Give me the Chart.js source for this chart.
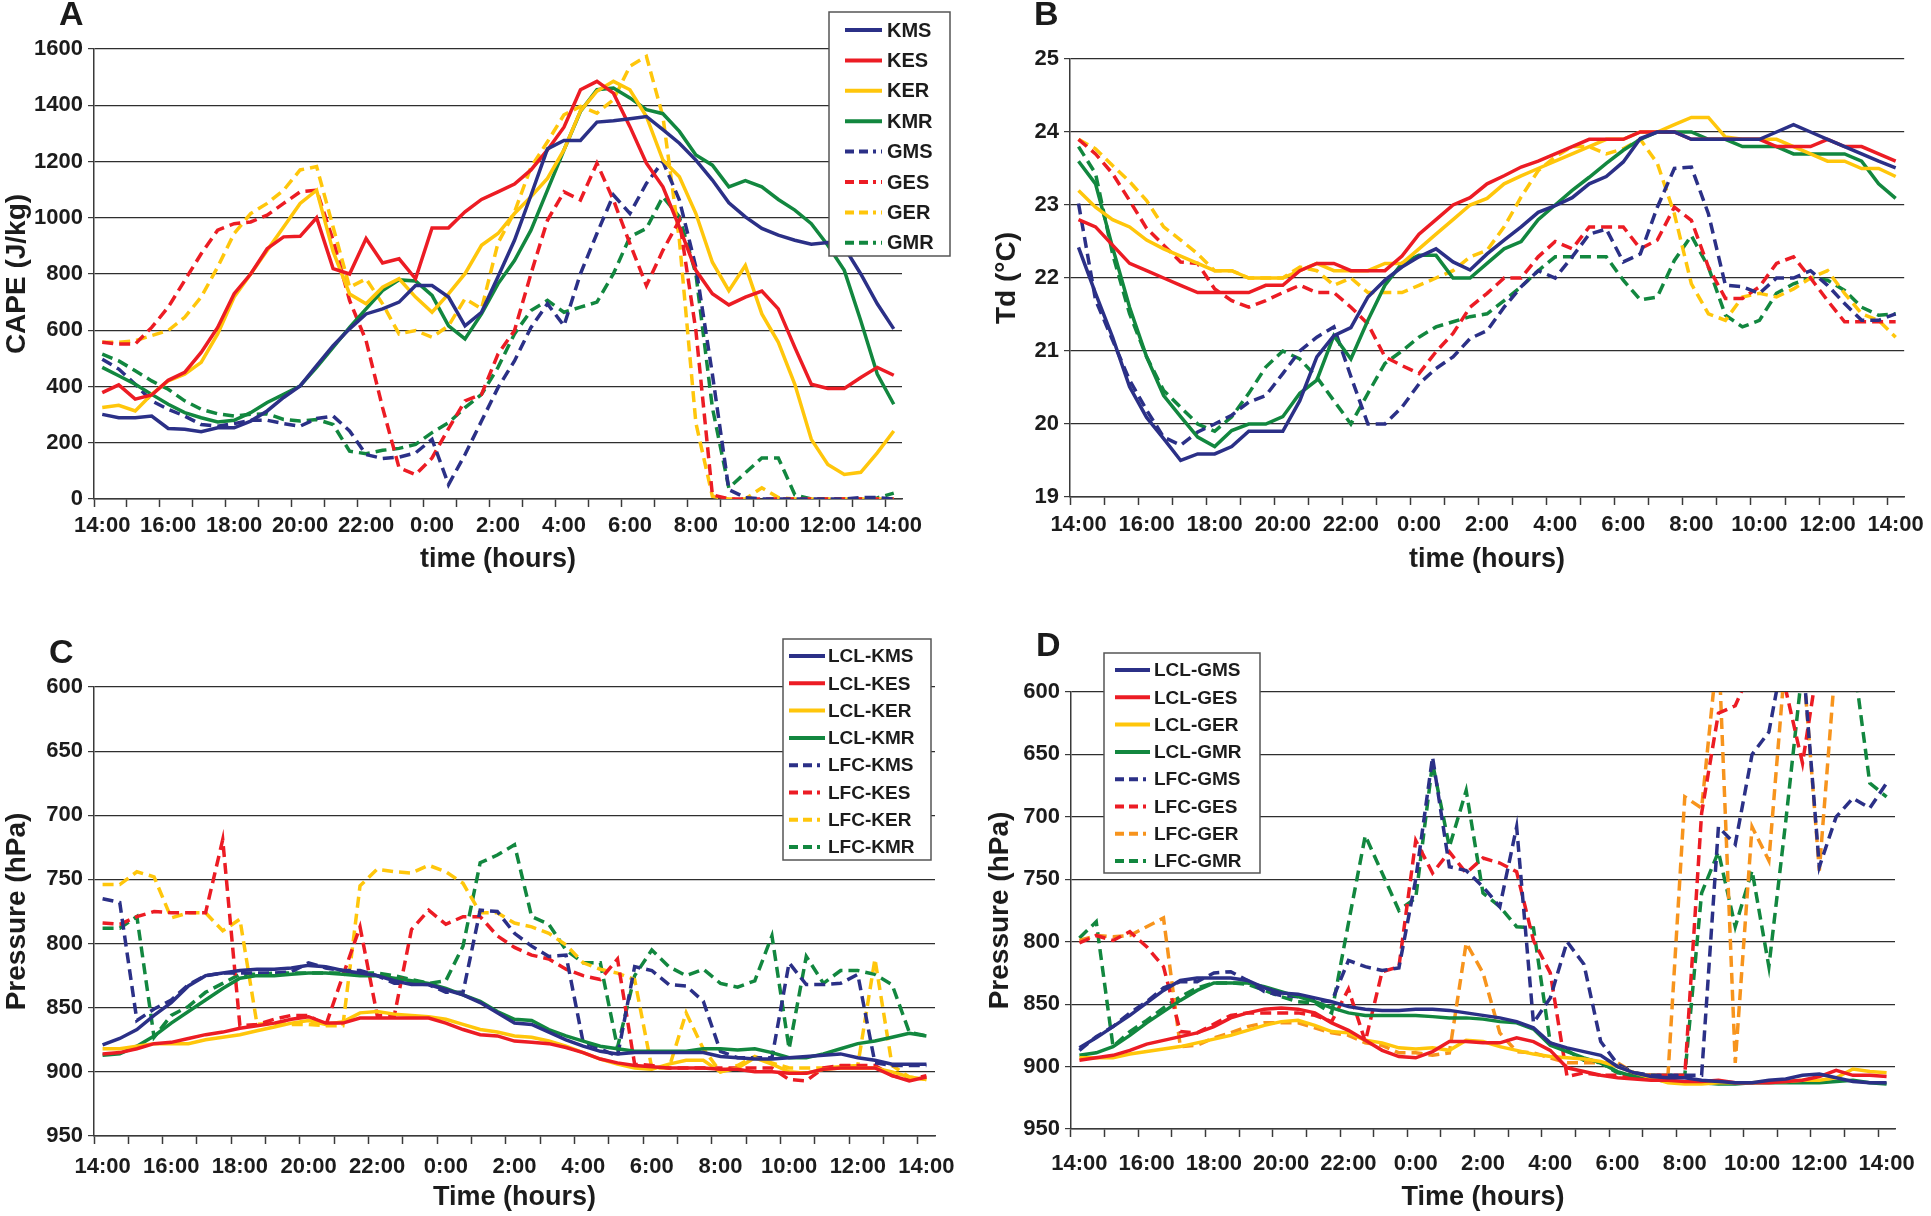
<!DOCTYPE html>
<html>
<head>
<meta charset="utf-8">
<script src="https://cdn.jsdelivr.net/npm/chart.js@4.4.1/dist/chart.umd.min.js"></script>
<style>
  html, body { margin: 0; padding: 0; background: #fff; }
  body { width: 1931px; height: 1216px; position: relative; overflow: hidden; font-family: 'Liberation Sans', Arial, sans-serif; }
  .panel { position: absolute; }
  .letter { position: absolute; font-weight: bold; font-size: 34px; line-height: 34px; color: #1a1a1a; }
</style>
</head>
<body>
<div class="panel" style="left:0;top:0;width:965px;height:600px"><canvas id="chartA"></canvas></div>
<div class="panel" style="left:965px;top:0;width:966px;height:600px"><canvas id="chartB"></canvas></div>
<div class="panel" style="left:0;top:608px;width:965px;height:608px"><canvas id="chartC"></canvas></div>
<div class="panel" style="left:965px;top:608px;width:966px;height:608px"><canvas id="chartD"></canvas></div>
<div class="letter" style="left:59px;top:-4px">A</div>
<div class="letter" style="left:1034px;top:-4px">B</div>
<div class="letter" style="left:49px;top:634px">C</div>
<div class="letter" style="left:1036px;top:627px">D</div>
<script>
// half-hourly time categories, 14:00 to 14:00 next day
const timeLabels = ['14:00','14:30','15:00','15:30','16:00','16:30','17:00','17:30','18:00','18:30',
  '19:00','19:30','20:00','20:30','21:00','21:30','22:00','22:30','23:00','23:30',
  '0:00','0:30','1:00','1:30','2:00','2:30','3:00','3:30','4:00','4:30','5:00','5:30',
  '6:00','6:30','7:00','7:30','8:00','8:30','9:00','9:30','10:00','10:30','11:00','11:30',
  '12:00','12:30','13:00','13:30','14:00'];

// A: CAPE (J/kg)
const kmsA = [301,289,289,295,251,248,239,253,253,277,313,361,402,474,545,605,658,676,700,759,759,718,616,664,790,920,1080,1245,1275,1275,1340,1345,1352,1360,1313,1265,1205,1134,1053,1003,962,938,920,906,912,895,800,694,605];
const kesA = [378,406,355,370,422,450,521,610,730,800,890,932,934,1000,819,800,926,839,854,783,964,964,1021,1065,1092,1120,1170,1241,1322,1455,1485,1443,1324,1194,1110,967,813,730,690,718,739,676,539,408,393,393,432,468,440];
const kerA = [325,333,313,372,420,444,486,587,718,800,884,967,1051,1098,880,729,694,753,783,718,664,729,801,902,944,1015,1075,1140,1241,1380,1450,1485,1455,1360,1205,1146,1015,842,741,830,658,557,408,212,123,87,95,164,242];
const kmrA = [468,438,408,372,337,307,289,274,280,307,343,372,402,468,539,610,676,741,779,775,724,616,569,658,765,848,956,1098,1241,1378,1455,1461,1426,1384,1370,1307,1223,1187,1110,1132,1110,1065,1027,979,902,813,634,444,337];
const gmsA = [497,462,408,349,319,295,265,259,268,280,280,268,259,286,295,242,158,144,149,164,212,51,158,277,396,491,610,694,616,801,944,1081,1015,1122,1200,1063,825,444,33,5,0,0,0,0,0,0,5,5,0];
const gesA = [557,551,551,610,682,777,872,956,979,985,1009,1051,1092,1098,920,706,563,325,111,87,146,250,349,372,515,599,801,991,1092,1063,1194,1063,908,759,884,991,599,15,0,0,0,0,0,0,0,0,0,0,0];
const gerA = [557,557,563,581,599,646,718,825,944,1015,1051,1098,1170,1182,967,753,783,694,587,599,575,616,712,676,910,1020,1180,1270,1366,1396,1372,1420,1539,1574,1360,920,270,10,0,0,40,5,0,0,0,0,0,0,0];
const gmrA = [515,491,456,420,390,349,319,303,295,301,303,283,277,283,265,170,161,173,180,194,236,271,325,372,468,587,670,706,664,682,700,801,932,962,1075,1003,801,325,39,93,146,146,15,0,0,0,0,4,21];
const capeTicks = [0,200,400,600,800,1000,1200,1400,1600];

// B: Td (°C)
const kmsB = [22.42,21.79,21.19,20.51,20.09,19.8,19.5,19.59,19.59,19.69,19.9,19.9,19.9,20.32,20.92,21.21,21.32,21.74,21.97,22.15,22.29,22.4,22.22,22.11,22.33,22.52,22.7,22.9,22.99,23.1,23.29,23.39,23.59,23.91,24.0,24.0,23.9,23.9,23.9,23.9,23.9,24.0,24.1,24.0,23.9,23.8,23.7,23.6,23.51];
const kesB = [22.8,22.7,22.45,22.2,22.1,22.0,21.9,21.8,21.8,21.8,21.8,21.9,21.9,22.1,22.2,22.2,22.1,22.1,22.1,22.3,22.6,22.8,23.0,23.1,23.29,23.4,23.52,23.6,23.7,23.8,23.9,23.9,23.9,24.0,24.0,24.0,23.9,23.9,23.9,23.9,23.9,23.8,23.8,23.8,23.9,23.8,23.8,23.7,23.6];
const kerB = [23.2,22.97,22.8,22.7,22.52,22.4,22.3,22.2,22.1,22.1,22.0,22.0,22.0,22.1,22.2,22.1,22.1,22.1,22.2,22.2,22.4,22.6,22.8,23.0,23.09,23.29,23.4,23.5,23.6,23.7,23.8,23.9,23.9,24.0,24.0,24.1,24.2,24.2,23.93,23.9,23.9,23.9,23.8,23.7,23.6,23.6,23.5,23.5,23.39];
const kmrB = [23.6,23.29,22.42,21.6,20.92,20.39,20.1,19.82,19.69,19.91,20.0,20.0,20.1,20.42,20.6,21.21,20.89,21.42,21.9,22.2,22.31,22.31,22.0,22.0,22.2,22.4,22.5,22.8,23.0,23.2,23.38,23.57,23.75,23.9,24.0,24.0,24.0,23.9,23.9,23.8,23.8,23.8,23.7,23.7,23.7,23.7,23.6,23.29,23.09];
const gmsB = [23.02,21.7,21.15,20.6,20.19,19.82,19.71,19.89,20.0,20.12,20.3,20.39,20.69,21.0,21.19,21.33,20.65,20.0,20.0,20.23,20.55,20.76,20.92,21.17,21.28,21.6,21.88,22.1,22.0,22.29,22.6,22.67,22.22,22.33,22.97,23.5,23.52,22.88,21.9,21.88,21.79,22.0,22.0,22.1,21.9,21.65,21.42,21.42,21.51];
const gesB = [23.9,23.7,23.43,23.06,22.68,22.45,22.22,22.2,21.85,21.69,21.6,21.69,21.8,21.9,21.8,21.8,21.6,21.37,20.92,20.8,20.69,20.99,21.24,21.6,21.79,22.0,22.0,22.29,22.5,22.4,22.7,22.7,22.7,22.4,22.52,22.97,22.79,22.15,21.72,21.72,21.88,22.2,22.29,22.0,21.69,21.4,21.4,21.4,21.4];
const gerB = [23.9,23.77,23.54,23.32,23.06,22.7,22.52,22.33,22.1,22.1,22.0,22.0,22.0,22.15,22.1,21.9,22.0,21.8,21.8,21.8,21.9,22.0,22.1,22.29,22.38,22.7,23.11,23.47,23.66,23.8,23.8,23.7,23.77,23.9,23.57,22.88,21.92,21.51,21.42,21.74,21.79,21.74,21.85,22.0,22.1,21.79,21.51,21.42,21.19];
const gmrB = [23.8,23.43,22.33,21.51,20.92,20.46,20.23,20.0,19.9,20.1,20.42,20.78,21.0,20.89,20.64,20.32,20.0,20.42,20.83,21.0,21.19,21.33,21.4,21.47,21.51,21.69,21.88,22.1,22.29,22.29,22.29,22.29,21.97,21.7,21.74,22.24,22.58,22.15,21.49,21.33,21.42,21.79,21.92,22.0,21.97,21.83,21.6,21.49,21.51];
const tdTicks = [19,20,21,22,23,24,25];

// C: LCL / LFC pressure (hPa), K runs
const lclKms = [879,874,867,856,846,833,825,823,821,820,820,819,817,818,821,823,825,829,832,832,836,840,846,854,862,863,869,875,880,884,886,885,885,885,885,885,888,889,890,890,889,888,887,886,889,891,894,894,894];
const lclKes = [886,885,882,878,877,874,871,869,866,864,862,859,857,862,862,858,858,858,858,858,862,867,871,872,876,877,878,881,885,890,893,895,896,897,897,897,898,898,900,900,901,901,898,897,897,897,903,907,904];
const lclKer = [882,882,880,878,878,878,875,873,871,868,865,862,860,863,861,854,853,855,856,857,859,863,867,869,872,873,876,880,885,890,894,897,898,894,891,891,900,897,889,894,900,901,898,897,897,897,900,904,906];
const lclKmr = [887,886,880,872,862,853,844,835,827,825,825,824,823,823,824,825,825,827,829,831,835,840,845,853,859,860,867,872,876,880,882,884,884,884,884,882,882,883,882,885,889,889,886,882,878,876,873,870,872];
const lfcKms = [765,768,860,851,844,832,825,823,823,823,823,822,815,819,821,821,825,831,831,832,838,838,774,775,792,802,810,809,877,882,888,818,821,832,833,845,884,889,889,889,815,832,832,831,824,893,895,895,895];
const lfcKes = [784,785,779,775,776,776,776,719,864,863,859,856,856,864,825,787,856,856,789,774,785,779,779,794,803,809,812,820,825,828,812,894,895,897,897,897,897,897,897,897,906,907,897,895,895,895,903,906,903];
const lfcKer = [754,754,744,748,780,776,776,790,781,863,862,863,863,864,864,755,742,744,745,739,744,753,776,776,784,787,792,801,815,820,823,828,897,897,854,882,900,895,888,893,897,897,897,896,895,812,895,904,906];
const lfcKmr = [788,788,779,873,856,849,838,831,824,824,823,823,823,823,823,823,823,825,828,831,829,802,737,731,723,779,785,805,815,815,881,825,805,818,825,820,831,834,829,794,882,810,831,821,821,824,832,869,872];

// D: LCL / LFC pressure (hPa), G runs (values below 600 run off the top of the panel)
const lclGms = [885,877,868,859,849,839,831,829,829,829,831,837,841,842,845,848,852,854,855,855,854,854,855,857,859,861,864,869,881,885,888,891,900,905,908,909,909,911,912,913,913,911,910,907,906,909,912,913,913];
const lclGes = [895,893,891,887,882,879,876,873,868,861,857,854,853,854,857,865,871,879,887,892,893,888,880,880,881,881,877,880,887,901,904,907,909,910,911,911,912,912,911,913,913,913,912,911,908,903,907,907,908];
const lclGer = [893,893,893,890,888,886,884,881,878,875,871,867,864,863,867,872,873,879,881,885,886,885,887,879,880,884,887,890,892,893,894,896,900,905,909,913,914,914,913,913,913,912,912,911,911,909,902,904,905];
const lclGmr = [891,889,884,875,865,856,847,839,833,833,833,836,840,844,848,853,857,859,859,859,859,860,861,861,862,864,865,870,883,888,893,897,904,908,910,912,913,913,914,914,913,913,913,913,913,912,911,913,914];
const lfcGms = [887,876,868,857,848,837,832,832,825,824,831,840,843,844,847,848,815,820,823,821,750,652,740,743,756,772,708,865,845,800,818,880,898,905,907,907,907,907,708,722,650,632,560,570,740,700,685,693,673];
const lfcGes = [801,795,799,792,804,820,872,873,866,859,857,857,857,857,859,864,838,880,824,820,719,745,728,745,733,737,744,799,825,908,905,907,907,907,907,907,907,697,617,611,580,570,598,657,570,570,570,570,570];
const lfcGer = [799,795,796,795,788,781,884,883,877,873,868,865,865,865,869,873,875,881,883,889,889,891,889,801,825,873,888,889,893,897,897,897,897,905,907,907,684,693,560,897,708,735,570,570,743,570,570,570,570];
const lfcGmr = [797,784,884,872,863,853,844,837,833,833,834,839,844,848,849,857,785,715,745,775,765,657,724,679,761,772,788,789,881,887,895,897,905,907,907,907,907,761,728,788,743,820,704,580,570,570,570,673,684];
const presTicks = [600,650,700,750,800,850,900,950];

const NAVY = '#2b3087', RED = '#ec1c24', YELLOW = '#ffc60b', GREEN = '#12873f', ORANGE = '#f7941d';
const AXIS = '#3a3a3a', GRID = '#2e2e2e', TEXT = '#1c1c1c';
const FAMILY = "'Liberation Sans', Arial, sans-serif";

Chart.defaults.font.family = FAMILY;
Chart.defaults.color = TEXT;

function series(label, data, color, dashed) {
  return {
    label: label, data: data,
    borderColor: color, backgroundColor: color,
    borderWidth: 3.5, borderDash: dashed ? [11, 6] : [],
    pointRadius: 0, tension: 0, fill: false
  };
}

// boxed legend drawn over the plot, like the original figure
const boxLegend = {
  id: 'boxLegend',
  afterDatasetsDraw(chart, args, o) {
    if (!o || !o.show) return;
    const ctx = chart.ctx;
    ctx.save();
    ctx.fillStyle = '#fff';
    ctx.fillRect(o.x, o.y, o.w, o.h);
    ctx.strokeStyle = '#555';
    ctx.lineWidth = 1.5;
    ctx.strokeRect(o.x, o.y, o.w, o.h);
    ctx.font = 'bold ' + o.size + 'px ' + FAMILY;
    ctx.textBaseline = 'middle';
    chart.data.datasets.forEach((ds, i) => {
      const y = o.first + i * o.step;
      ctx.strokeStyle = ds.borderColor;
      ctx.lineWidth = 4;
      ctx.setLineDash(ds.borderDash.length ? [9, 5, 9, 5, 3, 5] : []);
      ctx.beginPath();
      ctx.moveTo(o.x1, y);
      ctx.lineTo(o.x2, y);
      ctx.stroke();
      ctx.setLineDash([]);
      ctx.fillStyle = TEXT;
      ctx.fillText(ds.label, o.tx, y + 1);
    });
    ctx.restore();
  }
};

function makeChart(id, p) {
  const tickFont = { family: FAMILY, size: 22, weight: 'bold' };
  const titleFont = { family: FAMILY, size: 27, weight: 'bold' };
  return new Chart(document.getElementById(id), {
    type: 'line',
    data: { labels: timeLabels, datasets: p.datasets },
    plugins: [boxLegend],
    options: {
      responsive: true,
      maintainAspectRatio: false,
      animation: false,
      devicePixelRatio: 1,
      layout: { padding: { left: 0, right: p.padRight, top: p.padTop, bottom: 0 } },
      plugins: {
        legend: { display: false },
        tooltip: { enabled: false },
        boxLegend: p.legend || { show: false }
      },
      scales: {
        x: {
          type: 'category',
          offset: true,
          grid: {
            offset: true,
            drawOnChartArea: false,
            drawTicks: true,
            tickLength: 8,
            tickWidth: 1.5,
            tickColor: c => (c.index % 2 === 0 ? AXIS : 'rgba(0,0,0,0)')
          },
          border: { display: true, color: AXIS, width: 1.5 },
          ticks: {
            autoSkip: false, maxRotation: 0, minRotation: 0,
            padding: p.xTickPad, color: TEXT, font: tickFont,
            callback: (v, i) => (i % 4 === 0 ? timeLabels[i] : '')
          },
          title: { display: true, text: p.xTitle, color: TEXT, font: titleFont, padding: { top: 0, bottom: p.xTitlePad } },
          afterFit: s => { s.height = p.xh; }
        },
        y: {
          min: p.yTicks[0], max: p.yTicks[p.yTicks.length - 1],
          reverse: !!p.reverse,
          afterBuildTicks: s => { s.ticks = p.yTicks.map(v => ({ value: v })); },
          grid: { color: GRID, lineWidth: 1.2, drawTicks: true, tickLength: 6, tickColor: AXIS },
          border: { display: true, color: AXIS, width: 1.5 },
          ticks: { padding: 5, color: TEXT, font: tickFont, callback: v => String(v) },
          title: { display: true, text: p.yTitle, color: TEXT, font: { family: FAMILY, size: 28, weight: 'bold' }, padding: { top: p.yTitlePad, bottom: 0 } },
          afterFit: s => { s.width = p.yw; }
        }
      }
    }
  });
}

makeChart('chartA', {
  datasets: [
    series('KMS', kmsA, NAVY, false), series('KES', kesA, RED, false),
    series('KER', kerA, YELLOW, false), series('KMR', kmrA, GREEN, false),
    series('GMS', gmsA, NAVY, true), series('GES', gesA, RED, true),
    series('GER', gerA, YELLOW, true), series('GMR', gmrA, GREEN, true)
  ],
  yTicks: capeTicks, yTitle: 'CAPE (J/kg)', xTitle: 'time (hours)',
  yw: 94, xh: 101, padRight: 63, padTop: 49, xTickPad: 6, xTitlePad: 24, yTitlePad: 0,
  legend: { show: true, x: 829, y: 12, w: 121, h: 244, first: 30, step: 30.4, x1: 845, x2: 882, tx: 887, size: 20 }
});

makeChart('chartB', {
  datasets: [
    series('KMS', kmsB, NAVY, false), series('KES', kesB, RED, false),
    series('KER', kerB, YELLOW, false), series('KMR', kmrB, GREEN, false),
    series('GMS', gmsB, NAVY, true), series('GES', gesB, RED, true),
    series('GER', gerB, YELLOW, true), series('GMR', gmrB, GREEN, true)
  ],
  yTicks: tdTicks, yTitle: 'Td (°C)', xTitle: 'time (hours)',
  yw: 105, xh: 103, padRight: 20, padTop: 59, xTickPad: 7, xTitlePad: 24, yTitlePad: 25
});

makeChart('chartC', {
  datasets: [
    series('LCL-KMS', lclKms, NAVY, false), series('LCL-KES', lclKes, RED, false),
    series('LCL-KER', lclKer, YELLOW, false), series('LCL-KMR', lclKmr, GREEN, false),
    series('LFC-KMS', lfcKms, NAVY, true), series('LFC-KES', lfcKes, RED, true),
    series('LFC-KER', lfcKer, YELLOW, true), series('LFC-KMR', lfcKmr, GREEN, true)
  ],
  yTicks: presTicks, reverse: true, yTitle: 'Pressure (hPa)', xTitle: 'Time (hours)',
  yw: 94, xh: 80, padRight: 30, padTop: 79, xTickPad: 10, xTitlePad: 2, yTitlePad: 0,
  legend: { show: true, x: 783, y: 31, w: 148, h: 221, first: 48, step: 27.3, x1: 789, x2: 825, tx: 828, size: 19 }
});

makeChart('chartD', {
  datasets: [
    series('LCL-GMS', lclGms, NAVY, false), series('LCL-GES', lclGes, RED, false),
    series('LCL-GER', lclGer, YELLOW, false), series('LCL-GMR', lclGmr, GREEN, false),
    series('LFC-GMS', lfcGms, NAVY, true), series('LFC-GES', lfcGes, RED, true),
    series('LFC-GER', lfcGer, ORANGE, true), series('LFC-GMR', lfcGmr, GREEN, true)
  ],
  yTicks: presTicks, reverse: true, yTitle: 'Pressure (hPa)', xTitle: 'Time (hours)',
  yw: 106, xh: 87, padRight: 36, padTop: 84, xTickPad: 14, xTitlePad: 2, yTitlePad: 18,
  legend: { show: true, x: 139, y: 45, w: 156, h: 220, first: 62, step: 27.3, x1: 150, x2: 185, tx: 189, size: 19 }
});
</script>
</body>
</html>
